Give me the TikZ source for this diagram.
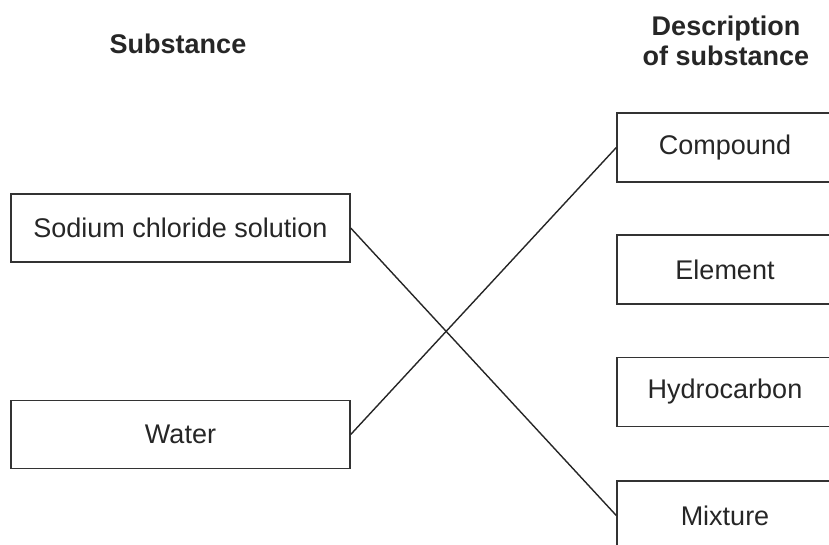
\documentclass[tikz,border=0pt]{standalone}
\usepackage{fontspec}
\setmainfont{Liberation Sans}
\begin{document}
\begin{tikzpicture}[x=1pt,y=-1pt,
  txt/.style={font=\fontsize{27}{30}\selectfont, text=black!85},
  hdr/.style={font=\fontsize{27}{30}\selectfont\bfseries, text=black!85, inner sep=0pt, align=center},
  leftbox/.style={txt, draw=black!80, line width=1.4pt, minimum width=339pt, minimum height=68pt, inner sep=0pt},
  rightbox/.style={txt, draw=black!80, line width=1.4pt, minimum width=216pt, minimum height=69pt, inner sep=0pt},
  link/.style={draw=black!85, line width=1.4pt}]
\useasboundingbox (0,0) rectangle (829,544);
\clip (0,0) rectangle (829,544);
\node[hdr, anchor=base] (hsub) at (178,53) {Substance};
\node[hdr] (hdesc) at (726,41) {Description\\of substance};
\node[leftbox] (sodium) at (180.5,228) {Sodium chloride solution};
\node[leftbox] (water) at (180.5,434.5) {Water};
\node[rightbox] (compound) at (725,147.5) {Compound};
\node[rightbox] (element) at (725,269.5) {Element};
\node[rightbox] (hydro) at (725,392) {Hydrocarbon};
\node[rightbox] (mixture) at (725,515.5) {Mixture};
\draw[link] (sodium.east) -- (mixture.west);
\draw[link] (water.east) -- (compound.west);
\end{tikzpicture}
\end{document}
